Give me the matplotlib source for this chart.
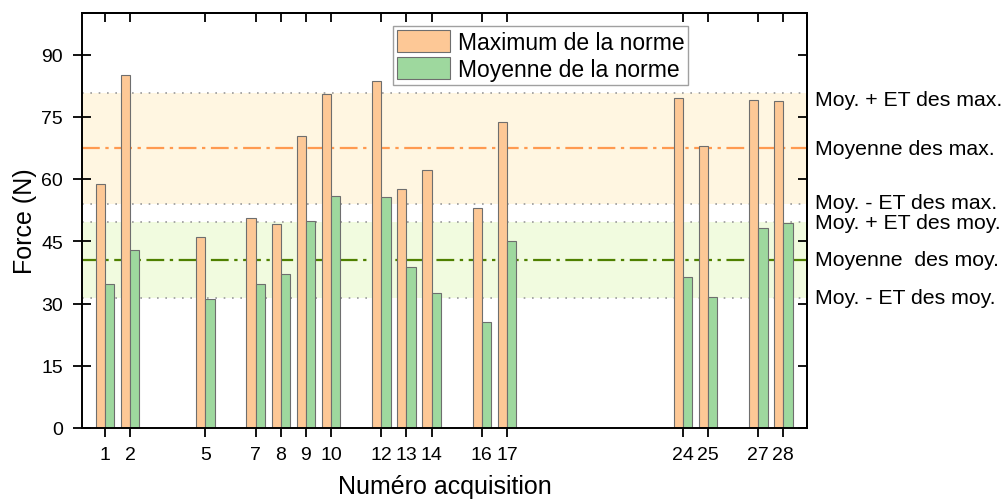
import numpy as np
import matplotlib
matplotlib.use('Agg')
import matplotlib.pyplot as plt

plt.rcParams['font.family'] = ['Liberation Sans', 'DejaVu Sans']

# acquisition numbers and force values (N)
acquisitions = [1, 2, 5, 7, 8, 9, 10, 12, 13, 14, 16, 17, 24, 25, 27, 28]
max_norme = [58.7, 85.1, 46.0, 50.6, 49.2, 70.3, 80.5, 83.5, 57.6, 62.2, 52.9, 73.7, 79.5, 67.9, 79.0, 78.8]
moy_norme = [34.7, 42.9, 31.2, 34.7, 37.1, 49.9, 55.9, 55.7, 38.7, 32.6, 25.5, 45.0, 36.3, 31.6, 48.2, 49.3]

# reference lines: mean +/- standard deviation
max_mean, max_lo, max_hi = 67.4, 53.9, 80.7
moy_mean, moy_lo, moy_hi = 40.5, 31.4, 49.7

right_labels = ['Moy. + ET des max.', 'Moyenne des max.', 'Moy. - ET des max.',
                'Moy. + ET des moy.', 'Moyenne  des moy.', 'Moy. - ET des moy.']
right_label_y = [79.2, 67.4, 54.3, 49.6, 40.5, 31.4]

yticks = [0, 15, 30, 45, 60, 75, 90]

ORANGE = '#FDC896'
GREEN = '#9ED89E'
EDGE = '#6e6e6e'

fig = plt.figure(figsize=(10.02, 5.02), dpi=100)
ax = fig.add_axes([82.3 / 1002, 1 - 429 / 502, (806.7 - 82.3) / 1002, (429 - 14) / 502])

# shaded bands + lines
ax.axhspan(max_lo, max_hi, color='#FFF6E1', zorder=0, lw=0)
ax.axhspan(moy_lo, moy_hi, color='#F1FBDF', zorder=0, lw=0)
for yv in [max_lo, max_hi, moy_lo, moy_hi]:
    ax.axhline(yv, color='#9a9a9a', lw=1.2, ls=(0, (1, 4)), zorder=1)
ax.axhline(max_mean, color='#FF9A50', lw=1.6, dashes=(8, 2.5, 1.5, 2.5), zorder=1)
ax.axhline(moy_mean, color='#4F8000', lw=1.6, dashes=(8, 2.5, 1.5, 2.5), zorder=1)

w = 0.37
x = np.array(acquisitions)
ax.bar(x, max_norme, width=-w, align='edge', color=ORANGE, edgecolor=EDGE, lw=0.8,
       label='Maximum de la norme', zorder=2)
ax.bar(x, moy_norme, width=w, align='edge', color=GREEN, edgecolor=EDGE, lw=0.8,
       label='Moyenne de la norme', zorder=2)

ax.set_xlim(0.1, 28.93)
ax.set_ylim(0, 100)
ax.set_xticks(acquisitions)
ax.set_xticklabels([str(a) for a in acquisitions])
ax.set_yticks(yticks)
ax.tick_params(direction='inout', length=13.5, width=1.3, labelsize=14, pad=6)
ax.tick_params(axis='y', pad=7)
for sp in ax.spines.values():
    sp.set_linewidth(1.4)

# top / right ticks pointing inward, no labels
top = ax.secondary_xaxis('top')
top.set_xticks(acquisitions)
top.tick_params(direction='in', length=6.5, width=1.3, labeltop=False)
right = ax.secondary_yaxis('right')
right.set_yticks(yticks)
right.tick_params(direction='in', length=6.5, width=1.3, labelright=False)
for sec in (top, right):
    for sp in sec.spines.values():
        sp.set_linewidth(1.4)

ax.set_xlabel('Numéro acquisition', fontsize=18, labelpad=8)
ax.set_ylabel('Force (N)', fontsize=18, labelpad=3)

for lab, yv in zip(right_labels, right_label_y):
    ax.text(1.0115, yv, lab, transform=ax.get_yaxis_transform(), fontsize=15.3,
            va='center', ha='left', clip_on=False)

leg = ax.legend(loc='upper left', bbox_to_anchor=(392.7 / 1002, 1 - 27.3 / 502),
                bbox_transform=fig.transFigure, borderaxespad=0, fontsize=16.5,
                handlelength=2.3, handleheight=1.1, handletextpad=0.35,
                borderpad=0.18, labelspacing=0.12, fancybox=False, framealpha=1)
leg.get_frame().set_edgecolor('#a0a0a0')
leg.get_frame().set_linewidth(1.0)

fig.savefig('out.png', dpi=100)
